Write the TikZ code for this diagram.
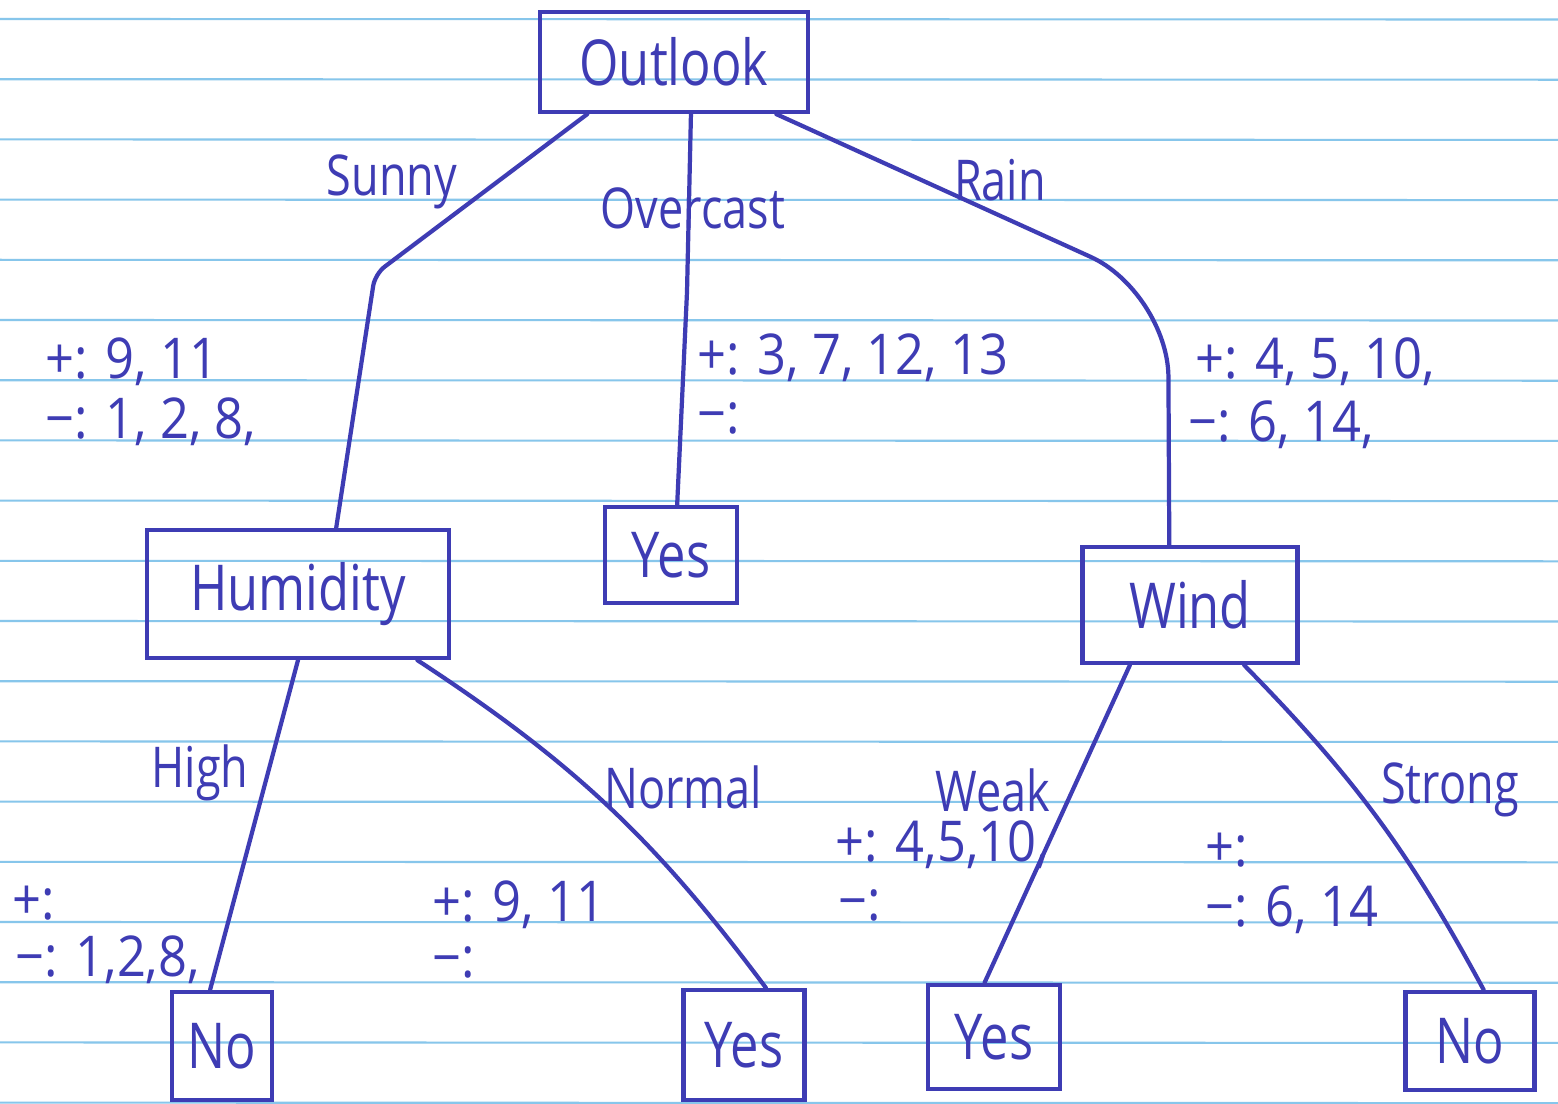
\documentclass[tikz,border=0pt]{standalone}
\usepackage{fontspec}
\newfontfamily\handfont[FakeStretch=0.8]{Open Sans}
\newfontfamily\numfont[FakeStretch=0.9]{Open Sans}
\definecolor{ink}{RGB}{62,60,180}
\definecolor{rule}{RGB}{135,198,235}
\tikzset{
  box/.style={draw=ink, line width=1.2pt, inner sep=0pt, text=ink, font=\handfont\fontsize{18}{22}\selectfont},
  lbl/.style={text=ink, inner sep=0pt, font=\handfont\fontsize{16}{19}\selectfont},
  cnt/.style={text=ink, inner sep=0pt, anchor=west, font=\numfont\fontsize{16}{19}\selectfont},
  edge/.style={draw=ink, line width=1.2pt, line cap=round},
}

\begin{document}
\begin{tikzpicture}[x=0.01cm,y=-0.01cm]
\useasboundingbox [fill=white] (0,0) rectangle (1558,1103);
% ruled paper
\foreach \i in {0,...,18}
  \draw [rule, line width=0.6pt] (0,{19+60.2*\i}) -- (1558,{19.5+60.2*\i});

% tree nodes
\node[box, minimum width=2.68cm, minimum height=1cm] (outlook) at (674,62) {Outlook};
\node[box, minimum width=1.32cm, minimum height=0.96cm] (yesover) at (671,555) {Yes};
\node[box, minimum width=3.02cm, minimum height=1.28cm] (humidity) at (298,594) {Humidity};
\node[box, minimum width=2.15cm, minimum height=1.16cm] (wind) at (1190,605) {Wind};
\node[box, minimum width=1cm, minimum height=1.08cm] (nohigh) at (222,1046) {No};
\node[box, minimum width=1.21cm, minimum height=1.1cm] (yesnormal) at (744,1045) {Yes};
\node[box, minimum width=1.32cm, minimum height=1.04cm] (yesweak) at (994,1037) {Yes};
\node[box, minimum width=1.29cm, minimum height=0.98cm] (nostrong) at (1470,1041) {No};

% bends
\coordinate (sunnybend) at (375,274);
\coordinate (overbend) at (687,292);
\coordinate (rainbend) at (1168,292);

% branches
\draw[edge, rounded corners=0.12cm] (outlook.211) -- (sunnybend) -- (humidity.60);
\draw[edge, rounded corners=0.05cm] (outlook.288) -- (overbend) -- (yesover.83);
\draw[edge, rounded corners=0.85cm] (outlook.333) -- (rainbend) -- (wind.109);
\draw[edge] (humidity.270) -- (nohigh.102);
\draw[edge] (humidity.331) to[bend left=10] (yesnormal.69);
\draw[edge] (wind.225) -- (yesweak.100);
\draw[edge] (wind.312) to[bend left=8] (nostrong.75);

% branch labels
\node[lbl] (sunny) at (392,182) {Sunny};
\node[lbl] (overcast) at (693,208) {Overcast};
\node[lbl] (rain) at (1000,180) {Rain};
\node[lbl] (high) at (200,773) {High};
\node[lbl] (normal) at (683,787) {Normal};
\node[lbl] (weak) at (993,790) {Weak};
\node[lbl] (strong) at (1450,790) {Strong};

% examples
\node[cnt] (sunnypos) at (45,362) {+: 9, 11};
\node[cnt] (sunnyneg) at (45,422) {−: 1, 2, 8,};
\node[cnt] (overpos) at (697,358) {+: 3, 7, 12, 13};
\node[cnt] (overneg) at (697,418) {−:};
\node[cnt] (rainpos) at (1195,362) {+: 4, 5, 10,};
\node[cnt] (rainneg) at (1188,425) {−: 6, 14,};
\node[cnt] (highpos) at (12,903) {+:};
\node[cnt] (highneg) at (15,960) {−: 1,2,8,};
\node[cnt] (normpos) at (432,905) {+: 9, 11};
\node[cnt] (normneg) at (432,962) {−:};
\node[cnt] (weakpos) at (835,845) {+: 4,5,10,};
\node[cnt] (weakneg) at (838,905) {−:};
\node[cnt] (strongpos) at (1205,850) {+:};
\node[cnt] (strongneg) at (1205,910) {−: 6, 14};

\end{tikzpicture}
\end{document}
